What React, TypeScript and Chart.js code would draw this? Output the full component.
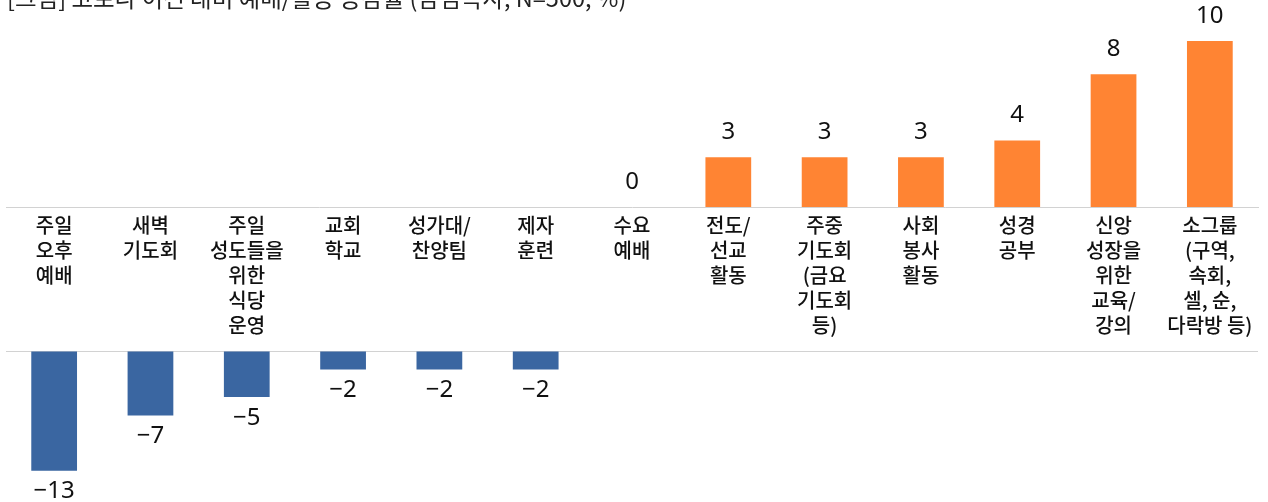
import React, { useEffect, useRef } from 'react';
import { Chart, registerables } from 'chart.js';

Chart.register(...registerables);

const titleText = '[그림] 코로나 이전 대비 예배/활동 증감률 (담임목사, N=500, %)';

const categories: string[][] = [
  ['주일', '오후', '예배'],
  ['새벽', '기도회'],
  ['주일', '성도들을', '위한', '식당', '운영'],
  ['교회', '학교'],
  ['성가대/', '찬양팀'],
  ['제자', '훈련'],
  ['수요', '예배'],
  ['전도/', '선교', '활동'],
  ['주중', '기도회', '(금요', '기도회', '등)'],
  ['사회', '봉사', '활동'],
  ['성경', '공부'],
  ['신앙', '성장을', '위한', '교육/', '강의'],
  ['소그룹', '(구역,', '속회,', '셀, 순,', '다락방 등)'],
];

const decreaseValues: (number | null)[] = [-13, -7, -5, -2, -2, -2, null, null, null, null, null, null, null];
const increaseValues: (number | null)[] = [null, null, null, null, null, null, 0, 3, 3, 3, 4, 8, 10];

const increaseAxisRange = { min: -17.77, max: 12.47 };
const decreaseAxisRange = { min: -16.41, max: 38.15 };

const ORANGE = '#FF8433';
const BLUE = '#3A66A1';
const LINE = '#d2d2d2';

const titlePlugin = {
  id: 'cutTitle',
  afterDraw(chart: any) {
    const ctx = chart.ctx;
    ctx.save();
    ctx.font = '23.5px "Noto Sans CJK KR"';
    ctx.fillStyle = '#222';
    ctx.textAlign = 'left';
    ctx.textBaseline = 'alphabetic';
    ctx.fillText(titleText, 7, 7);
    ctx.restore();
  },
};

const valueLabelPlugin = {
  id: 'valueLabels',
  afterDatasetsDraw(chart: any) {
    const ctx = chart.ctx;
    ctx.save();
    ctx.font = '24px "Noto Sans"';
    ctx.fillStyle = '#111';
    ctx.textAlign = 'center';
    ctx.textBaseline = 'middle';
    chart.data.datasets.forEach((ds: any, di: number) => {
      const meta = chart.getDatasetMeta(di);
      meta.data.forEach((bar: any, i: number) => {
        const v = ds.data[i];
        if (v === null || v === undefined) return;
        const text = v < 0 ? '\u2212' + Math.abs(v) : String(v);
        const y = v < 0 ? bar.y + 21 : bar.y - 25;
        ctx.fillText(text, bar.x, y);
      });
    });
    ctx.restore();
  },
};

export default function App() {
  const ref = useRef<HTMLCanvasElement | null>(null);

  useEffect(() => {
    if (!ref.current) return;
    const chart = new Chart(ref.current, {
      type: 'bar',
      data: {
        labels: categories as any,
        datasets: [
          {
            label: 'decrease',
            data: decreaseValues as any,
            backgroundColor: BLUE,
            yAxisID: 'yNeg',
            grouped: false,
            categoryPercentage: 1,
            barPercentage: 0.475,
          },
          {
            label: 'increase',
            data: increaseValues as any,
            backgroundColor: ORANGE,
            yAxisID: 'yPos',
            grouped: false,
            categoryPercentage: 1,
            barPercentage: 0.475,
          },
        ],
      },
      options: {
        responsive: false,
        animation: false,
        layout: { padding: { left: 6, right: 10, top: 0, bottom: 0 } },
        plugins: {
          legend: { display: false },
          title: { display: false },
          tooltip: { enabled: false },
        },
        scales: {
          x: {
            type: 'category',
            position: { yPos: 0 } as any,
            grid: { display: true, color: 'rgba(0,0,0,0)', drawTicks: false },
            border: { display: true, color: LINE, width: 1 },
            ticks: {
              color: '#111',
              font: { family: '"Noto Sans CJK KR"', size: 20, weight: '500', lineHeight: 1.25 },
              padding: 6,
              maxRotation: 0,
              minRotation: 0,
              autoSkip: false,
            },
          },
          yPos: {
            type: 'linear',
            display: false,
            min: increaseAxisRange.min,
            max: increaseAxisRange.max,
          },
          yNeg: {
            type: 'linear',
            display: true,
            position: 'left',
            min: decreaseAxisRange.min,
            max: decreaseAxisRange.max,
            afterBuildTicks: (axis: any) => {
              axis.ticks = [{ value: 0 }];
            },
            ticks: { display: false },
            grid: { display: true, color: LINE, lineWidth: 1, drawTicks: false },
            border: { display: false },
          },
        },
      },
      plugins: [valueLabelPlugin, titlePlugin],
    });
    return () => chart.destroy();
  }, []);

  return (
    <div style={{ position: 'fixed', left: 0, top: 0, width: 1268, height: 502, background: '#fff' }}>
      <canvas ref={ref} width={1268} height={502} style={{ display: 'block' }} />
    </div>
  );
}
